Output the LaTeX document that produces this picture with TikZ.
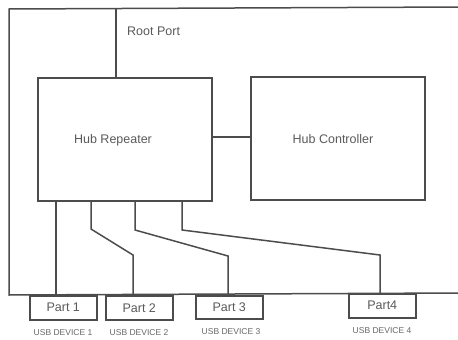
\documentclass[tikz,border=0pt]{standalone}
\usepackage{fontspec}
\setmainfont{Liberation Sans}
\begin{document}
\begin{tikzpicture}[x=1pt,y=-1pt,
  line/.style={draw=black!70,line width=1.5pt},
  blk/.style={draw=black!70,line width=1.5pt,minimum width=#1,anchor=north west,inner sep=0pt},
  lbl/.style={text=black!65,font=\fontsize{12.5}{14}\selectfont,inner sep=0pt},
  partlbl/.style={text=black!65,font=\fontsize{12.5}{14}\selectfont,inner sep=0pt},
  small/.style={text=black!60,font=\fontsize{8.5}{10}\selectfont,inner sep=0pt}]
\useasboundingbox (0,0) rectangle (458,340);
% outer frame
\coordinate (frTR) at (460,7);
\coordinate (frTL) at (9,9);
\coordinate (frBL) at (9,295);
\coordinate (frBR) at (460,293);
\draw[line] (frTR) -- (frTL) -- (frBL) -- (frBR);
% blocks
\node[blk=174pt,minimum height=123pt] (rep) at (37,77) {};
\node[lbl] (replbl) at (113,140) {Hub Repeater};
\node[blk=174pt,minimum height=123pt] (ctl) at (250,76) {};
\node[lbl] (ctllbl) at (333,139) {Hub Controller};
\node[lbl,anchor=west] (rootlbl) at (127,31) {Root Port};
% root port
\coordinate (rootTop) at (116,9);
\draw[line] (rootTop) -- (rootTop |- rep.north);
% repeater to controller
\draw[line] (rep.east |- 0,137) -- (ctl.west |- 0,137);
% ports
\node[blk=67pt,minimum height=24pt] (p1) at (29,295) {};
\node[partlbl] (p1l) at (p1.center) {Part 1};
\node[blk=67pt,minimum height=24pt] (p2) at (105,295) {};
\node[partlbl] (p2l) at (p2.center) {Part 2};
\node[blk=67pt,minimum height=23pt] (p3) at (195,295) {};
\node[partlbl] (p3l) at (p3.center) {Part 3};
\node[blk=67pt,minimum height=24pt] (p4) at (348,293) {};
\node[partlbl] (p4l) at (p4.center) {Part4};
\node[small] (d1) at (63,333) {USB DEVICE 1};
\node[small] (d2) at (139,333) {USB DEVICE 2};
\node[small] (d3) at (231,332) {USB DEVICE 3};
\node[small] (d4) at (382,331) {USB DEVICE 4};
% port connectors
\draw[line] (rep.south -| 56,0) -- (p1.north -| 56,0);
\draw[line] (rep.south -| 91,0) -- (91,229) -- (133,255) -- (p2.north -| 133,0);
\draw[line] (rep.south -| 135,0) -- (135,230) -- (228,256) -- (p3.north -| 228,0);
\draw[line] (rep.south -| 182,0) -- (182,230) -- (380,255) -- (p4.north -| 380,0);
\end{tikzpicture}
\end{document}
